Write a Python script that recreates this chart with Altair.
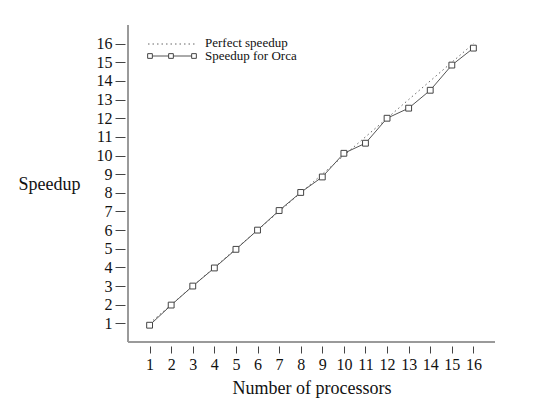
import altair as alt
import pandas as pd

# ---- data ----
procs = list(range(1, 17))
perfect = [float(p) for p in procs]
orca = [0.9, 1.98, 3.0, 3.97, 4.97, 6.0, 7.05, 8.02, 8.85, 10.12,
        10.66, 12.0, 12.54, 13.5, 14.85, 15.76]
x_ticks = list(range(1, 17))
y_ticks = list(range(1, 17))
legend_labels = ["Perfect speedup", "Speedup for Orca"]

df = pd.DataFrame({"procs": procs, "perfect": perfect, "orca": orca})
one = pd.DataFrame({"a": [0]})

FONT = "Liberation Serif"
TXT = "#111111"

xscale = alt.Scale(domain=[0, 17], nice=False, zero=False)
yscale = alt.Scale(domain=[0, 17], nice=False, zero=False)

xaxis = alt.Axis(values=x_ticks, domain=False, grid=False, offset=4, tickSize=7,
                 tickColor="#444", tickWidth=1, labelPadding=3, labelFont=FONT,
                 labelFontSize=16, labelColor=TXT, labelFlush=False,
                 title="Number of processors", titleFont=FONT, titleFontSize=18,
                 titleFontWeight="normal", titleColor=TXT, titlePadding=7)
yaxis = alt.Axis(values=y_ticks, domain=False, grid=False, offset=3, tickSize=10,
                 tickColor="#444", tickWidth=1, labelPadding=3, labelFont=FONT,
                 labelFontSize=16, labelColor=TXT, labelFlush=False,
                 title="Speedup", titleFont=FONT, titleFontSize=18,
                 titleFontWeight="normal", titleColor=TXT, titleAngle=0,
                 titleAlign="center", titleBaseline="middle", titleX=-76, titleY=159)


def X(field=None, datum=None):
    if datum is not None:
        return alt.X(datum=datum, scale=xscale, axis=xaxis, title="Number of processors")
    return alt.X(field, type="quantitative", scale=xscale, axis=xaxis, title="Number of processors")


def Y(field=None, datum=None):
    if datum is not None:
        return alt.Y(datum=datum, scale=yscale, axis=yaxis, title="Speedup")
    return alt.Y(field, type="quantitative", scale=yscale, axis=yaxis, title="Speedup")


perfect_line = alt.Chart(df).mark_line(strokeDash=[1.5, 3], color="#666", strokeWidth=1).encode(
    x=X("procs"), y=Y("perfect"))

orca_line = alt.Chart(df).mark_line(color="#555", strokeWidth=1).encode(
    x=X("procs"), y=Y("orca"))
orca_pts = alt.Chart(df).mark_point(shape="square", filled=True, fill="white",
                                    stroke="#444", strokeWidth=1, size=34, opacity=1).encode(
    x=X("procs"), y=Y("orca"))

# axis lines (L-shape)
yline = alt.Chart(one).mark_rule(color="#9a9a9a", strokeWidth=2).encode(
    x=X(datum=0), y=Y(datum=0), y2=alt.Y2(datum=17))
xline = alt.Chart(one).mark_rule(color="#9a9a9a", strokeWidth=2).encode(
    y=Y(datum=0), x=X(datum=0), x2=alt.X2(datum=17))

# legend
leg1_line = alt.Chart(one).mark_rule(strokeDash=[1.5, 3], color="#666", strokeWidth=1).encode(
    x=alt.value(20), x2=alt.value(68), y=alt.value(19))
leg2_line = alt.Chart(one).mark_rule(color="#555", strokeWidth=1).encode(
    x=alt.value(21), x2=alt.value(67), y=alt.value(31))
leg_pts = [alt.Chart(one).mark_point(shape="square", filled=True, fill="white",
                                     stroke="#444", strokeWidth=1, size=22, opacity=1).encode(
    x=alt.value(px), y=alt.value(31)) for px in (22, 43, 66)]
leg_txt = [alt.Chart(one).mark_text(align="left", baseline="middle", font=FONT,
                                    fontSize=13, color=TXT).encode(
    x=alt.value(77), y=alt.value(py), text=alt.value(lbl))
    for lbl, py in zip(legend_labels, (18, 31))]

chart = alt.layer(perfect_line, yline, xline, orca_line, orca_pts,
                  leg1_line, leg2_line, *leg_pts, *leg_txt).properties(
    width=367, height=317,
    background="white",
    autosize=alt.AutoSizeParams(type="none"),
    padding={"left": 120, "top": 17, "right": 30, "bottom": 60},
).configure_view(strokeWidth=0)

chart.save("out.html", embed_options={"renderer": "svg", "actions": False})
